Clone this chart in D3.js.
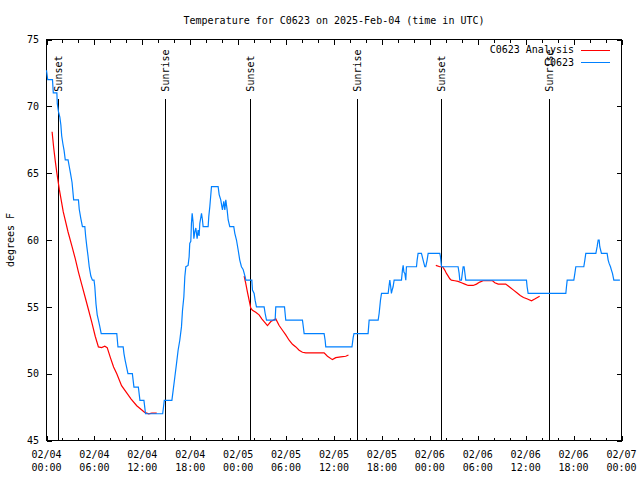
<!DOCTYPE html>
<html><head><meta charset="utf-8">
<script src="https://cdn.jsdelivr.net/npm/d3@7"></script>
<style>
html,body{margin:0;padding:0;background:#fff;}
text{font-family:"DejaVu Sans Mono",monospace;font-size:10px;fill:#000;}
</style></head>
<body>
<svg id="chart" width="640" height="480"></svg>
<script>
// ---- data (x = hours since 2025-02-04 00:00 UTC, y = degrees F) ----
const titleText = "Temperature for C0623 on 2025-Feb-04 (time in UTC)";
const yLabelText = "degrees F";
const seriesNames = ["C0623 Analysis", "C0623"];
const seriesColors = ["#ff0000", "#0080ff"];
const yTicks = [45, 50, 55, 60, 65, 70, 75];
const xMajorTicks = [0, 6, 12, 18, 24, 30, 36, 42, 48, 54, 60, 66, 72];
const xTickLabels = [["02/04","00:00"],["02/04","06:00"],["02/04","12:00"],["02/04","18:00"],["02/05","00:00"],["02/05","06:00"],["02/05","12:00"],["02/05","18:00"],["02/06","00:00"],["02/06","06:00"],["02/06","12:00"],["02/06","18:00"],["02/07","00:00"]];
const xMinorStep = 2;
const sunEvents = [
  {h: 1.38, label: "Sunset"}, {h: 14.9, label: "Sunrise"},
  {h: 25.42, label: "Sunset"}, {h: 38.82, label: "Sunrise"},
  {h: 49.46, label: "Sunset"}, {h: 62.86, label: "Sunrise"}
];
const sunLineBottom = 45, sunLineTop = 70.55, sunLabelAt = 71.1;

const analysisSeg1 = [[0.7,68.1],[0.9,66.9],[1.1,65.9],[1.3,65.0],[1.6,63.8],[2.1,62.1],[2.7,60.6],[3.2,59.5],[3.6,58.6],[4.0,57.6],[4.4,56.7],[4.85,55.7],[5.25,54.8],[5.65,53.9],[6.1,52.8],[6.5,52.0],[6.9,51.95],[7.3,52.05],[7.6,51.95],[8.0,51.2],[8.4,50.5],[8.8,50.0],[9.4,49.1],[10.0,48.6],[10.6,48.1],[11.3,47.6],[11.9,47.3],[12.3,47.1],[12.8,47.0],[13.2,47.05],[13.8,47.05]];
const analysisSeg2 = [[24.75,57.3],[24.95,56.75],[25.16,56.1],[25.37,55.5],[25.58,54.9],[25.79,54.75],[26.2,54.6],[26.62,54.4],[26.96,54.1],[27.25,53.9],[27.67,53.6],[28.09,53.9],[28.38,54.0],[28.71,54.1],[29.13,53.6],[29.55,53.25],[29.96,52.9],[30.38,52.5],[30.8,52.2],[31.22,52.0],[31.63,51.75],[32.05,51.6],[32.47,51.55],[34.76,51.55],[35.18,51.3],[35.8,51.05],[36.22,51.2],[36.85,51.25],[37.47,51.3],[37.81,51.4]];
const analysisSeg3 = [[48.75,58.1],[49.25,58.0],[49.6,58.0],[49.87,57.75],[50.08,57.5],[50.3,57.3],[50.5,57.1],[50.7,57.0],[51.13,56.95],[51.54,56.9],[51.96,56.8],[52.38,56.7],[52.8,56.6],[53.42,56.6],[53.84,56.7],[54.25,56.85],[54.67,56.95],[55.85,56.95],[56.14,56.8],[56.56,56.7],[57.5,56.7],[58.06,56.45],[58.48,56.25],[58.9,56.05],[59.32,55.85],[59.73,55.7],[60.15,55.6],[60.73,55.45],[61.19,55.6],[61.75,55.8]];
const analysisSegments = [analysisSeg1, analysisSeg2, analysisSeg3];

const observed = [[0,72.7],[0.15,72],[0.75,72],[0.85,71],[1.3,71],[1.35,70.2],[1.5,69.6],[1.67,69.2],[1.8,68.6],[1.9,67.8],[2.05,67.2],[2.2,66.7],[2.35,66],[2.7,66],[2.85,65.5],[3.0,65],[3.2,64.3],[3.4,63],[4.0,63],[4.1,62.3],[4.3,61.6],[4.5,61],[4.8,61],[4.9,60.3],[5.05,59.5],[5.2,58.8],[5.35,58],[5.55,57.3],[5.75,57],[5.95,57],[6.05,56.5],[6.2,55.2],[6.35,54.4],[6.5,54],[6.65,53.6],[6.85,53],[8.8,53],[8.95,52],[9.6,52],[9.7,51.5],[9.85,51],[10.2,50],[10.75,50],[10.95,49],[11.5,49],[11.7,48],[12.2,48],[12.4,47],[14.55,47],[14.75,48],[15.7,48],[15.86,48.75],[16.07,49.75],[16.28,50.75],[16.48,51.75],[16.69,52.5],[16.9,53.5],[17.03,54.75],[17.2,55.75],[17.32,57.25],[17.45,58],[17.73,58.1],[17.86,58.75],[17.94,59.75],[18.07,59.9],[18.15,61.25],[18.24,62],[18.36,61.3],[18.45,60.1],[18.57,60.6],[18.7,60.9],[18.86,60.1],[18.99,60.75],[19.11,60.3],[19.2,61.25],[19.41,62],[19.53,61.5],[19.61,61],[20.24,61],[20.32,61.75],[20.45,62.5],[20.66,64],[21.49,64],[21.62,63.4],[21.82,63],[22.03,62.25],[22.2,62.9],[22.33,62.25],[22.45,63],[22.62,62.25],[22.75,61.5],[22.95,61],[23.45,61],[23.58,60.5],[23.79,60],[24.0,59.25],[24.2,58.5],[24.41,58],[24.62,57.8],[24.87,57.25],[24.96,57],[25.71,57],[25.79,56.25],[26.0,56],[26.12,55.5],[26.29,55],[27.25,55],[27.38,54.5],[27.55,54],[28.63,54],[28.71,55],[29.8,55],[29.88,54.5],[29.96,54],[32.05,54],[32.18,53.4],[32.26,53],[34.76,53],[34.89,52.5],[34.97,52],[38.25,52],[38.4,52.7],[38.5,53],[40.27,53],[40.4,54],[41.53,54],[41.65,54.5],[41.82,55.5],[41.95,56],[42.78,56],[42.9,56.6],[42.99,57],[43.1,56.5],[43.19,56],[43.3,56.3],[43.4,56.5],[43.53,57],[44.45,57],[44.57,57.75],[44.66,58.1],[44.75,57.6],[44.87,57.5],[44.99,57],[45.07,58],[46.33,58],[46.41,58.5],[46.53,59],[46.95,59],[47.16,58.5],[47.37,58],[47.49,58],[47.66,58.5],[47.79,59],[49.25,59],[49.33,58.75],[49.46,58],[51.54,58],[51.67,57.5],[51.75,57],[51.96,57],[52.17,58],[52.29,58],[52.5,57],[60.1,57],[60.18,56.5],[60.31,56],[65.03,56],[65.11,56.5],[65.2,57],[66.03,57],[66.16,57.5],[66.28,58],[67.28,58],[67.41,58.5],[67.53,59],[68.79,59],[68.95,59.5],[69.08,60],[69.2,60],[69.28,59.5],[69.49,59],[70.2,59],[70.33,58.5],[70.45,58.25],[70.62,58],[70.74,57.75],[70.87,57.5],[71.04,57],[71.8,57]];

// ---- layout ----
const svg = d3.select("#chart");
const L = 46.5, R = 621.5, T = 39.5, B = 440.5;
const x = d3.scaleLinear().domain([0, 72]).range([L, R]);
const y = d3.scaleLinear().domain([45, 75]).range([B, T]);

// title
svg.append("text").attr("x", (L + R) / 2).attr("y", 24).attr("text-anchor", "middle").text(titleText);
// y label
svg.append("text").attr("transform", `translate(13.5,${(T + B) / 2}) rotate(-90)`).attr("text-anchor", "middle").text(yLabelText);

// sunrise/sunset lines (behind data)
const sun = svg.append("g");
sunEvents.forEach(e => {
  sun.append("line").attr("x1", Math.round(x(e.h)) + 0.5).attr("x2", Math.round(x(e.h)) + 0.5)
    .attr("y1", y(sunLineBottom)).attr("y2", y(sunLineTop))
    .attr("stroke", "#000").attr("stroke-width", 1).attr("shape-rendering", "crispEdges");
  sun.append("text").attr("transform", `translate(${x(e.h) + 4},${y(sunLabelAt)}) rotate(-90)`)
    .attr("text-anchor", "start").text(e.label);
});

// frame and ticks
const frame = svg.append("g").attr("shape-rendering", "crispEdges").attr("stroke", "#000").attr("fill", "none");
frame.append("rect").attr("x", L).attr("y", T).attr("width", R - L).attr("height", B - T);
yTicks.forEach(v => {
  frame.append("line").attr("x1", L).attr("x2", L + 5).attr("y1", Math.round(y(v)) + 0.5).attr("y2", Math.round(y(v)) + 0.5);
  frame.append("line").attr("x1", R - 5).attr("x2", R).attr("y1", Math.round(y(v)) + 0.5).attr("y2", Math.round(y(v)) + 0.5);
});
d3.range(0, 72 + 0.001, xMinorStep).forEach(h => {
  const major = xMajorTicks.includes(h);
  const len = major ? 5 : 3;
  const xp = Math.round(x(h)) + 0.5;
  frame.append("line").attr("x1", xp).attr("x2", xp).attr("y1", B).attr("y2", B - len);
  frame.append("line").attr("x1", xp).attr("x2", xp).attr("y1", T).attr("y2", T + len);
});
yTicks.forEach(v => {
  svg.append("text").attr("x", 39).attr("y", y(v) + 3.7).attr("text-anchor", "end").text(v);
});
xMajorTicks.forEach((h, i) => {
  const t = svg.append("text").attr("text-anchor", "middle");
  t.append("tspan").attr("x", x(h)).attr("y", 458.3).text(xTickLabels[i][0]);
  t.append("tspan").attr("x", x(h)).attr("y", 470.7).text(xTickLabels[i][1]);
});

// data lines
const line = d3.line().x(d => x(d[0])).y(d => y(d[1]));
analysisSegments.forEach(seg => {
  svg.append("path").datum(seg).attr("d", line).attr("fill", "none")
    .attr("stroke", seriesColors[0]).attr("stroke-width", 1.2);
});
svg.append("path").datum(observed).attr("d", line).attr("fill", "none")
  .attr("stroke", seriesColors[1]).attr("stroke-width", 1.2);

// legend
seriesNames.forEach((n, i) => {
  const ly = 49.5 + i * 12.7;
  svg.append("text").attr("x", 574).attr("y", ly + 3.8).attr("text-anchor", "end").text(n);
  svg.append("line").attr("x1", 581).attr("x2", 610).attr("y1", Math.round(ly) + 0.5).attr("y2", Math.round(ly) + 0.5)
    .attr("stroke", seriesColors[i]).attr("stroke-width", 1.2).attr("shape-rendering", "crispEdges");
});
</script>
</body></html>
